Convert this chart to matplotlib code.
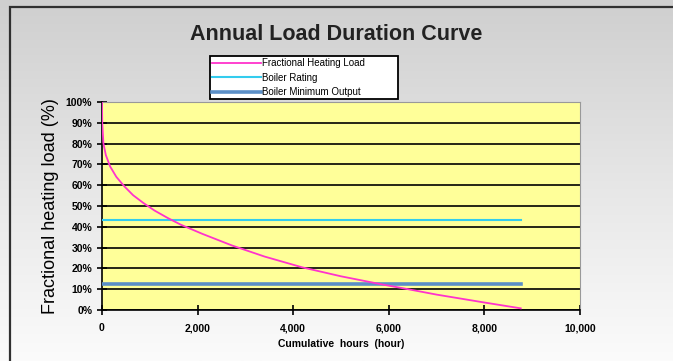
import numpy as np
import matplotlib.pyplot as plt
from matplotlib.colors import LinearSegmentedColormap
from matplotlib.patches import Rectangle
from matplotlib.ticker import FuncFormatter, MultipleLocator

plt.rcParams['font.family'] = ['Liberation Sans', 'DejaVu Sans']

# Load duration curve
hours = [0, 5, 30, 80, 170, 300, 465, 650, 863, 1100, 1370, 1650, 2100,
         2722, 3400, 4190, 5000, 5857, 6333, 7000, 8000, 8760]
load = [100, 90, 80, 74.5, 69, 64, 59.5, 55.2, 51.5, 47.8, 44.3, 41, 36.6,
        31, 25.7, 20.5, 16.2, 12.3, 10.3, 7.4, 3.6, 0.8]

# Boiler lines
rating_hours = [0, 8760]
rating = [43.5, 43.5]
min_hours = [0, 8760]
min_output = [12.3, 12.3]

fig = plt.figure(figsize=(6.73, 3.61), dpi=100)

# gray gradient background
bg = fig.add_axes([0, 0, 1, 1], zorder=-10)
grad = np.linspace(0, 1, 256).reshape(-1, 1)
cmap = LinearSegmentedColormap.from_list('g', ['#cfcfcf', '#e6e6e6', '#fbfbfb'])
bg.imshow(grad, aspect='auto', cmap=cmap, extent=[0, 1, 0, 1], origin='upper')
bg.add_patch(Rectangle((10 / 673, -0.1), 1.2, (361 - 7) / 361 + 0.1, fill=False,
                       edgecolor='#303030', linewidth=1.6))
bg.set_xlim(0, 1)
bg.set_ylim(0, 1)
bg.axis('off')

ax = fig.add_axes([102 / 673, 1 - 310 / 361, 478 / 673, 208 / 361])
ax.set_facecolor('#ffff99')

ax.plot(hours, load, color='#ff33cc', lw=1.3, label='Fractional Heating Load', zorder=5)
ax.plot(rating_hours, rating, color='#33ccee', lw=1.5, label='Boiler Rating', zorder=4)
ax.plot(min_hours, min_output, color='#5b8fc7', lw=2.6, label='Boiler Minimum Output', zorder=4)

ax.set_xlim(0, 10000)
ax.set_ylim(0, 100)
ax.xaxis.set_major_locator(MultipleLocator(2000))
ax.yaxis.set_major_locator(MultipleLocator(10))
ax.xaxis.set_major_formatter(FuncFormatter(lambda v, p: f'{int(v):,}'))
ax.yaxis.set_major_formatter(FuncFormatter(lambda v, p: f'{int(v)}%'))
ax.yaxis.grid(True, color='black', lw=1.2)
ax.set_axisbelow(True)

for s in ['top', 'right']:
    ax.spines[s].set_color('#999999')
for s in ['left', 'bottom']:
    ax.spines[s].set_color('black')
    ax.spines[s].set_linewidth(1.2)

ax.tick_params(axis='both', direction='inout', length=7, width=1.2, labelsize=7.5)
for lab in ax.get_xticklabels() + ax.get_yticklabels():
    lab.set_fontweight('bold')
ax.tick_params(axis='x', pad=6)

ax.set_xlabel('Cumulative  hours  (hour)', fontsize=7.5, fontweight='bold', labelpad=4)
ax.set_ylabel('Fractional heating load (%)', fontsize=13, labelpad=5)

fig.text(336 / 673, 1 - 35 / 361, 'Annual Load Duration Curve', ha='center', va='center',
         fontsize=15.5, fontweight='bold', color='#222222')

leg = ax.legend(loc='lower left', bbox_to_anchor=(210 / 673, 1 - 99 / 361, 188 / 673, 52 / 361),
                bbox_transform=fig.transFigure, mode='expand', fontsize=7, frameon=True,
                fancybox=False, edgecolor='black', framealpha=1, borderpad=0.2,
                handlelength=5, labelspacing=0.45, handletextpad=0.1, borderaxespad=0)
leg.get_frame().set_linewidth(1.3)

fig.savefig('out.png', dpi=100)
